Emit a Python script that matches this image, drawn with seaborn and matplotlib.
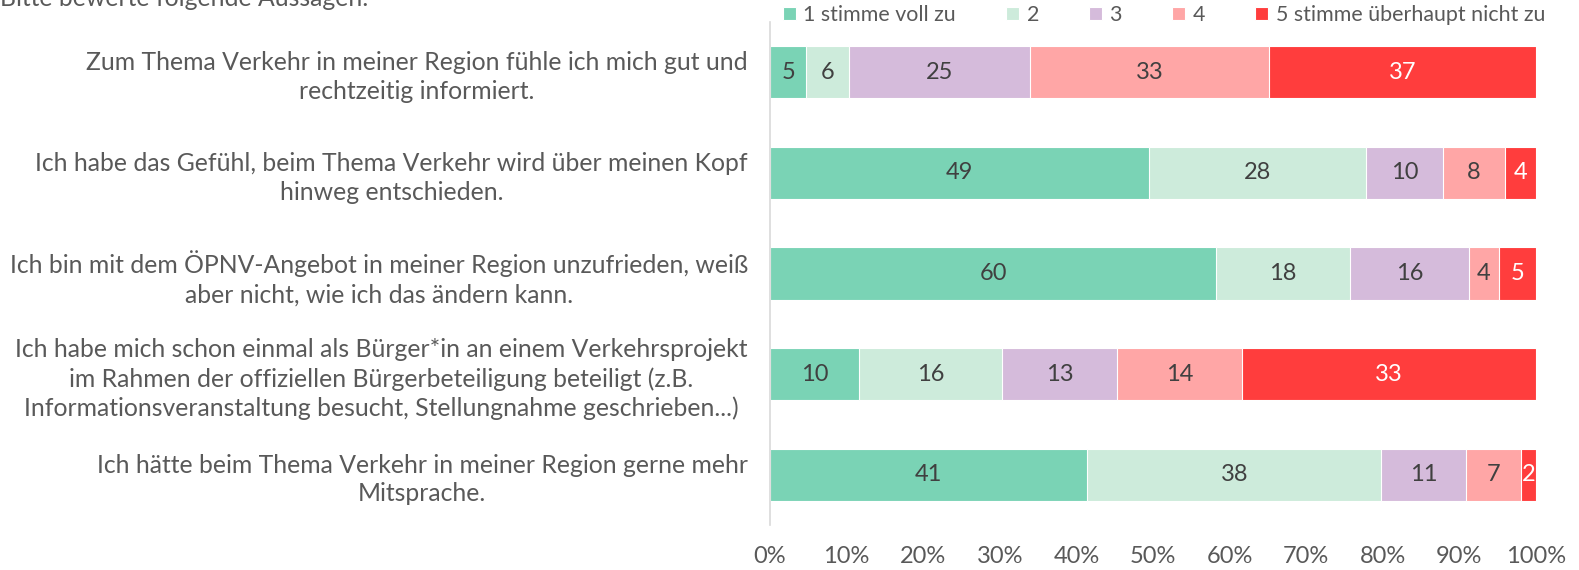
import numpy as np
import pandas as pd
import matplotlib.pyplot as plt
import seaborn as sns

# Daten
aussagen = [
    "Zum Thema Verkehr in meiner Region fühle ich mich gut und\nrechtzeitig informiert.",
    "Ich habe das Gefühl, beim Thema Verkehr wird über meinen Kopf\nhinweg entschieden.",
    "Ich bin mit dem ÖPNV-Angebot in meiner Region unzufrieden, weiß\naber nicht, wie ich das ändern kann.",
    "Ich habe mich schon einmal als Bürger*in an einem Verkehrsprojekt\nim Rahmen der offiziellen Bürgerbeteiligung beteiligt (z.B.\nInformationsveranstaltung besucht, Stellungnahme geschrieben...)",
    "Ich hätte beim Thema Verkehr in meiner Region gerne mehr\nMitsprache.",
]
antworten = ["1 stimme voll zu", "2", "3", "4", "5 stimme überhaupt nicht zu"]
stufe_1 = [5, 49, 60, 10, 41]
stufe_2 = [6, 28, 18, 16, 38]
stufe_3 = [25, 10, 16, 13, 11]
stufe_4 = [33, 8, 4, 14, 7]
stufe_5 = [37, 4, 5, 33, 2]

farben = ["#7AD3B5", "#CDEBDB", "#D5BBDB", "#FFA6A6", "#FF3D3D"]
textfarben = ["#404040", "#404040", "#404040", "#404040", "#FFFFFF"]
grau = "#595959"

sns.set_style("white")
plt.rcParams['font.family'] = ['Lato', 'DejaVu Sans']

werte = np.array([stufe_1, stufe_2, stufe_3, stufe_4, stufe_5], dtype=float)
prozent = werte / werte.sum(axis=0) * 100
kumuliert = np.cumsum(prozent, axis=0)

fig = plt.figure(figsize=(15.79, 5.70), dpi=100)
ax = fig.add_axes([770 / 1579, 1 - 525 / 570, 766 / 1579, 503 / 570])

# gestapelte Balken: von der Summe rückwärts zeichnen
for k in range(4, -1, -1):
    df = pd.DataFrame({"aussage": aussagen, "wert": kumuliert[k]})
    sns.barplot(data=df, x="wert", y="aussage", order=aussagen, color=farben[k],
                width=0.517, edgecolor="white", linewidth=0.8, saturation=1,
                label=antworten[k], ax=ax)

# Beschriftung in der Mitte der Segmente
for k in range(5):
    start = kumuliert[k] - prozent[k]
    for i in range(len(aussagen)):
        ax.text(start[i] + prozent[k][i] / 2, i, f"{int(werte[k][i])}",
                ha="center", va="center", fontsize=17, color=textfarben[k])

ax.set_xlim(0, 100)
ax.set_ylim(4.5, -0.5)
ax.set_xticks(np.arange(0, 101, 10))
ax.set_xticklabels([f"{v}%" for v in range(0, 101, 10)])
ax.set_xlabel("")
ax.set_ylabel("")
ax.tick_params(axis="x", length=0, pad=15, labelsize=17, labelcolor=grau)
ax.tick_params(axis="y", length=0, pad=16, labelsize=17.8, labelcolor=grau)
for lab in ax.get_yticklabels():
    lab.set_multialignment("center")
    lab.set_linespacing(1.3)
for s in ["top", "right", "bottom"]:
    ax.spines[s].set_visible(False)
ax.spines["left"].set_color("#D9D9D9")
ax.spines["left"].set_linewidth(1.2)
ax.grid(False)

handles, labels = ax.get_legend_handles_labels()
if ax.legend_:
    ax.legend_.remove()
fig.legend(handles[::-1], labels[::-1], loc="center left",
           bbox_to_anchor=(783 / 1579, 1 - 15 / 570), ncol=5, frameon=False,
           fontsize=15.4, handlelength=0.6, handleheight=0.6, handletextpad=0.35,
           columnspacing=2.35, borderaxespad=0, borderpad=0,
           labelcolor=grau)

# Titel ist im Original oben abgeschnitten
fig.text(0.0, 1 - 6 / 570, "Bitte bewerte folgende Aussagen:", ha="left",
         va="baseline", fontsize=17.8, color=grau)

fig.savefig("out.png", dpi=100)
